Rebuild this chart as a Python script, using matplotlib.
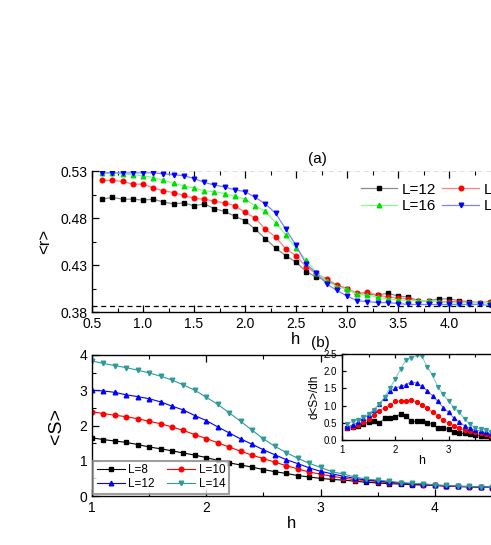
import numpy as np
import matplotlib
matplotlib.use("Agg")
import matplotlib.pyplot as plt

plt.rcParams['font.family'] = ['Liberation Sans', 'DejaVu Sans']
plt.rcParams['mathtext.default'] = 'regular'

# ---------------- data: panel (a) ----------------
h_a = [0.6, 0.7, 0.8, 0.9, 1.0, 1.1, 1.2, 1.3, 1.4, 1.5, 1.6, 1.7, 1.8, 1.9, 2.0,
       2.1, 2.2, 2.3, 2.4, 2.5, 2.6, 2.7, 2.8, 2.9, 3.0, 3.1, 3.2, 3.3, 3.4, 3.5,
       3.6, 3.7, 3.8, 3.9, 4.0, 4.1, 4.2, 4.3, 4.4]
r_L12 = [0.500, 0.502, 0.500, 0.500, 0.499, 0.500, 0.497, 0.495, 0.496, 0.493,
         0.495, 0.490, 0.487, 0.482, 0.477, 0.468, 0.458, 0.448, 0.440, 0.433,
         0.423, 0.417, 0.414, 0.408, 0.405, 0.399, 0.399, 0.398, 0.400, 0.397,
         0.396, 0.392, 0.392, 0.394, 0.394, 0.392, 0.391, 0.390, 0.390]
r_L14 = [0.520, 0.520, 0.519, 0.516, 0.516, 0.512, 0.509, 0.507, 0.504, 0.501,
         0.500, 0.498, 0.496, 0.493, 0.486, 0.480, 0.468, 0.460, 0.447, 0.440,
         0.428, 0.421, 0.415, 0.409, 0.405, 0.400, 0.401, 0.398, 0.396, 0.395,
         0.394, 0.392, 0.392, 0.391, 0.391, 0.391, 0.390, 0.390, 0.391]
r_L16 = [0.528, 0.528, 0.527, 0.526, 0.525, 0.523, 0.520, 0.517, 0.514, 0.512,
         0.509, 0.508, 0.506, 0.503, 0.500, 0.493, 0.487, 0.475, 0.462, 0.448,
         0.435, 0.422, 0.413, 0.407, 0.404, 0.399, 0.398, 0.396, 0.394, 0.393,
         0.392, 0.392, 0.392, 0.391, 0.390, 0.390, 0.390, 0.390, 0.390]
r_L18 = [0.528, 0.528, 0.528, 0.528, 0.528, 0.528, 0.527, 0.526, 0.525, 0.522,
         0.518, 0.515, 0.513, 0.510, 0.508, 0.502, 0.495, 0.485, 0.468, 0.451,
         0.431, 0.421, 0.410, 0.403, 0.397, 0.392, 0.391, 0.390, 0.390, 0.389,
         0.388, 0.388, 0.388, 0.388, 0.388, 0.388, 0.388, 0.388, 0.387]
r_goe = 0.5307
r_poisson = 0.386

# ---------------- data: panel (b) ----------------
h_b = [1.0, 1.1, 1.2, 1.3, 1.4, 1.5, 1.6, 1.7, 1.8, 1.9, 2.0, 2.1, 2.2, 2.3, 2.4,
       2.5, 2.6, 2.7, 2.8, 2.9, 3.0, 3.1, 3.2, 3.3, 3.4, 3.5, 3.6, 3.7, 3.8, 3.9,
       4.0, 4.1, 4.2, 4.3, 4.4, 4.5]
S_L8 = [1.65, 1.60, 1.56, 1.52, 1.46, 1.39, 1.34, 1.28, 1.22, 1.16, 1.09, 1.01,
        0.94, 0.88, 0.82, 0.75, 0.69, 0.64, 0.58, 0.54, 0.50, 0.47, 0.45, 0.42,
        0.39, 0.37, 0.35, 0.34, 0.32, 0.31, 0.30, 0.28, 0.27, 0.26, 0.25, 0.24]
S_L10 = [2.39, 2.34, 2.29, 2.25, 2.19, 2.12, 2.05, 1.96, 1.86, 1.74, 1.63, 1.51,
         1.39, 1.27, 1.16, 1.06, 0.96, 0.86, 0.77, 0.68, 0.62, 0.56, 0.51, 0.46,
         0.44, 0.41, 0.38, 0.36, 0.34, 0.32, 0.30, 0.28, 0.27, 0.26, 0.25, 0.24]
S_L12 = [3.00, 2.98, 2.94, 2.87, 2.82, 2.76, 2.67, 2.55, 2.44, 2.28, 2.14, 1.96,
         1.79, 1.62, 1.47, 1.31, 1.17, 1.03, 0.92, 0.80, 0.70, 0.63, 0.56, 0.50,
         0.45, 0.43, 0.39, 0.37, 0.35, 0.33, 0.31, 0.29, 0.27, 0.27, 0.26, 0.25]
S_L14 = [3.83, 3.76, 3.70, 3.64, 3.57, 3.49, 3.40, 3.29, 3.15, 3.00, 2.80, 2.60,
         2.36, 2.12, 1.87, 1.62, 1.41, 1.23, 1.07, 0.93, 0.81, 0.69, 0.62, 0.54,
         0.48, 0.45, 0.42, 0.38, 0.36, 0.35, 0.31, 0.30, 0.28, 0.27, 0.26, 0.25]

# ---------------- data: inset dS/dh ----------------
h_in = [1.1, 1.2, 1.3, 1.4, 1.5, 1.6, 1.7, 1.8, 1.9, 2.0, 2.1, 2.2, 2.3, 2.4, 2.5,
        2.6, 2.7, 2.8, 2.9, 3.0, 3.1, 3.2, 3.3, 3.4, 3.5, 3.6, 3.7, 3.8]
dS_L8 = [0.34, 0.39, 0.42, 0.47, 0.52, 0.55, 0.49, 0.63, 0.63, 0.68, 0.75, 0.71,
         0.54, 0.54, 0.55, 0.49, 0.46, 0.34, 0.34, 0.31, 0.24, 0.19, 0.19, 0.17,
         0.15, 0.13, 0.12, 0.10]
dS_L10 = [0.34, 0.39, 0.44, 0.52, 0.61, 0.73, 0.85, 0.94, 1.02, 1.12, 1.14, 1.14,
          1.17, 1.10, 1.02, 0.92, 0.81, 0.70, 0.58, 0.49, 0.42, 0.34, 0.29, 0.26,
          0.22, 0.19, 0.17, 0.13]
dS_L12 = [0.38, 0.44, 0.52, 0.63, 0.73, 0.88, 1.04, 1.22, 1.41, 1.51, 1.56, 1.61,
          1.70, 1.65, 1.56, 1.43, 1.28, 1.12, 0.94, 0.80, 0.63, 0.52, 0.41, 0.34,
          0.29, 0.26, 0.22, 0.19]
dS_L14 = [0.47, 0.54, 0.58, 0.68, 0.76, 0.88, 1.05, 1.26, 1.51, 1.78, 2.07, 2.33,
          2.38, 2.46, 2.43, 2.11, 1.88, 1.53, 1.33, 1.12, 0.94, 0.81, 0.61, 0.46,
          0.36, 0.32, 0.28, 0.24]

W, H = 491, 545
fig = plt.figure(figsize=(W / 100, H / 100), dpi=100)


def ax_rect(x0, x1, ytop, ybot):
    return [x0 / W, 1 - ybot / H, (x1 - x0) / W, (ybot - ytop) / H]


def style_axes(ax, fs=10):
    ax.tick_params(which='both', direction='in', labelsize=fs, top=True,
                   right=False)
    ax.tick_params(which='major', length=5, width=0.9)
    ax.tick_params(which='minor', length=3, width=0.8)
    for s in ax.spines.values():
        s.set_linewidth(1.0)


# ---------- panel (a) ----------
axa = fig.add_axes(ax_rect(92, 500, 171, 312))
series_a = [
    (r_L12, 'L=12', 's', 'black', '#8a8a8a'),
    (r_L14, 'L=14', 'o', 'red', '#ff8080'),
    (r_L16, 'L=16', '^', '#00dd00', '#80ff80'),
    (r_L18, 'L=18', 'v', 'blue', '#8080ff'),
]
handles_a = []
for ys, lab, mk, c, lc in series_a:
    ln, = axa.plot(h_a, ys, color=lc, lw=0.9, marker=mk, ms=3.3, mfc=c, mec=c,
                   label=lab)
    handles_a.append(ln)
axa.axhline(r_goe, color='black', ls=(0, (4, 3)), lw=0.9)
axa.axhline(r_poisson, color='black', ls=(0, (4, 3)), lw=0.9)
axa.set_xlim(0.5, 4.5)
axa.set_ylim(0.38, 0.53)
axa.set_xticks(np.arange(0.5, 4.51, 0.5))
axa.set_xticks(np.arange(0.5, 4.51, 0.25), minor=True)
axa.set_xticklabels(['%.1f' % v for v in np.arange(0.5, 4.51, 0.5)])
axa.set_yticks([0.38, 0.43, 0.48, 0.53])
axa.set_yticks(np.arange(0.38, 0.531, 0.025), minor=True)
axa.set_yticklabels(['0.38', '0.43', '0.48', '0.53'])
style_axes(axa)
axa.spines['top'].set_visible(False)
axa.set_xlabel('h', fontsize=12, labelpad=1)
axa.set_ylabel('<r>', fontsize=12, labelpad=6)
axa.text(317 / W, 1 - 159 / H, '(a)', transform=fig.transFigure,
         fontsize=11, ha='center', va='center')
order_a = [0, 2, 1, 3]
axa.legend([handles_a[i] for i in order_a],
           [series_a[i][1] for i in order_a],
           loc='upper left', bbox_to_anchor=(350 / W, 1 - 172 / H),
           bbox_transform=fig.transFigure, ncol=2, frameon=False,
           fontsize=11, handlelength=2.4, columnspacing=0.4,
           handletextpad=0.3, labelspacing=0.15, borderpad=0.2)

# ---------- panel (b) ----------
axb = fig.add_axes(ax_rect(92, 492, 355, 496))
teal = '#2f9a9a'
series_b = [
    (S_L8, 'L=8', 's', 'black'),
    (S_L10, 'L=10', 'o', 'red'),
    (S_L12, 'L=12', '^', 'blue'),
    (S_L14, 'L=14', 'v', teal),
]
handles_b = []
for ys, lab, mk, c in series_b:
    ln, = axb.plot(h_b, ys, color=c, lw=0.8, marker=mk, ms=3.3, label=lab)
    handles_b.append(ln)
axb.set_xlim(1, 4.5)
axb.set_ylim(0, 4)
axb.set_xticks([1, 2, 3, 4])
axb.set_xticks(np.arange(1, 4.51, 0.5), minor=True)
axb.set_yticks([0, 1, 2, 3, 4])
axb.set_yticks(np.arange(0, 4.01, 0.5), minor=True)
style_axes(axb)
axb.set_xlabel('h', fontsize=12, labelpad=1)
axb.set_ylabel('<S>', fontsize=14, labelpad=10)
axb.text(320 / W, 1 - 343 / H, '(b)', transform=fig.transFigure,
         fontsize=11, ha='center', va='center')
order_b = [0, 2, 1, 3]
leg = axb.legend([handles_b[i] for i in order_b],
                 [series_b[i][1] for i in order_b],
                 loc='lower left', bbox_to_anchor=(93 / W, 1 - 494 / H),
                 bbox_transform=fig.transFigure, ncol=2, frameon=True,
                 fancybox=False, fontsize=8.5, handlelength=2.4,
                 columnspacing=1.0, handletextpad=0.3, labelspacing=0.2,
                 borderpad=0.3, borderaxespad=0)
leg.get_frame().set_edgecolor('#888888')
leg.get_frame().set_linewidth(1.5)

# ---------- inset ----------
axi = fig.add_axes(ax_rect(342, 502, 354, 440))
series_i = [
    (dS_L8, 's', 'black', '#555555'),
    (dS_L10, 'o', 'red', '#ff7070'),
    (dS_L12, '^', 'blue', '#7070ff'),
    (dS_L14, 'v', teal, '#80c8c8'),
]
for ys, mk, c, lc in series_i:
    axi.plot(h_in, ys, color=lc, lw=0.7, marker=mk, ms=2.8, mfc=c, mec=c)
axi.set_xlim(1, 4)
axi.set_ylim(0, 2.5)
axi.set_xticks([1, 2, 3])
axi.set_xticks(np.arange(1, 4.01, 0.5), minor=True)
axi.set_yticks(np.arange(0, 2.51, 0.5))
axi.set_yticklabels(['%.1f' % v for v in np.arange(0, 2.51, 0.5)])
style_axes(axi, fs=7)
axi.tick_params(which='major', length=3)
axi.tick_params(which='minor', length=2)
axi.set_xlabel('h', fontsize=9, labelpad=0)
axi.set_ylabel('d<S>/dh', fontsize=8.5, labelpad=2)

fig.savefig('out.png', dpi=100)
